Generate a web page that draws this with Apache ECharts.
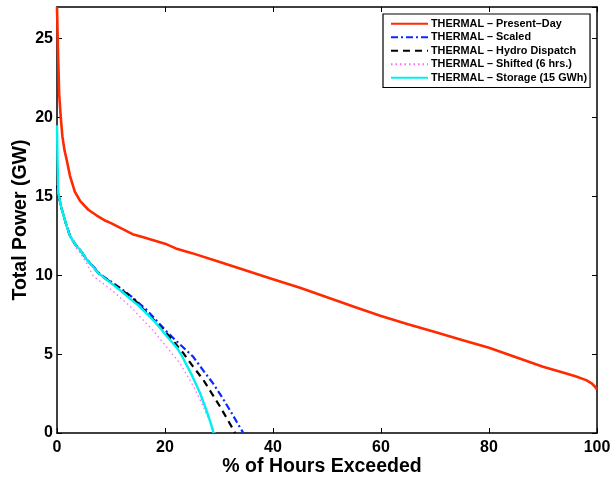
<!DOCTYPE html>
<html><head><meta charset="utf-8">
<script src="https://cdn.jsdelivr.net/npm/echarts@6/dist/echarts.min.js"></script>
<style>html,body{margin:0;padding:0;background:#fff}#c{width:610px;height:479px}</style>
</head><body><div id="c"></div>
<script>
var seriesNames = ['THERMAL \u2013 Present\u2013Day','THERMAL \u2013 Scaled','THERMAL \u2013 Hydro Dispatch','THERMAL \u2013 Shifted (6 hrs.)','THERMAL \u2013 Storage (15 GWh)'];
var xTicks = [0,20,40,60,80,100];
var yTicks = [0,5,10,15,20,25];
var presentDay = [[0,27],[0.2,24],[0.4,21.5],[0.7,20],[1,18.8],[1.4,17.9],[1.8,17.3],[2.4,16.3],[3.3,15.3],[4.3,14.7],[5.8,14.15],[7.3,13.8],[9,13.45],[10,13.3],[12,12.95],[14,12.6],[16,12.4],[18,12.2],[20,12.0],[22,11.7],[25,11.4],[30,10.85],[35,10.3],[40,9.75],[45,9.2],[50,8.6],[55,8.0],[60,7.42],[65,6.9],[70,6.4],[75,5.9],[80,5.4],[85,4.8],[90,4.2],[94,3.8],[96,3.6],[98,3.35],[99,3.15],[99.6,2.95],[100,2.75]];
var scaled = [[0,15.8],[0.25,15.2],[0.74,14.36],[1.8,13.1],[2.4,12.5],[3.5,11.9],[4.3,11.6],[5.5,11.0],[7,10.45],[8,10.05],[10,9.6],[11.7,9.2],[13.8,8.65],[16.6,7.8],[20.3,6.43],[22.2,5.8],[25.2,4.84],[27,4.0],[28.9,3.15],[30.5,2.3],[32,1.46],[33.3,0.7],[34.5,0]];
var hydro = [[0,15.8],[0.25,15.2],[0.74,14.36],[1.8,13.1],[2.4,12.5],[3.5,11.9],[4.3,11.6],[5.5,11.0],[7,10.4],[8,10.0],[10,9.55],[11.7,9.15],[13.8,8.6],[14.75,8.3],[17,7.5],[20.3,6.33],[23.4,5.06],[25,4.3],[27.1,3.36],[28.5,2.6],[30.2,1.67],[31.5,0.9],[33,0]];
var shifted = [[0,15.8],[0.25,15.2],[0.74,14.3],[1.8,13.0],[2.4,12.4],[3.5,11.75],[4.3,11.4],[5.5,10.75],[6.7,9.95],[10,9.1],[12.9,8.23],[14.1,7.85],[15,7.5],[17.8,6.5],[20.3,5.45],[22.8,4.4],[24,3.7],[25.2,3.0],[26.5,2.1],[27.7,1.2],[28.5,0.6],[29.3,0]];
var storage = [[0,19.5],[0.1,17.3],[0.25,15.2],[0.74,14.36],[1.8,13.1],[2.4,12.5],[3.5,11.9],[4.3,11.6],[5.5,11.0],[7,10.4],[7.65,10.13],[10,9.5],[11.7,9.05],[13.8,8.44],[15,8.1],[17.2,7.38],[19,6.7],[20.3,6.15],[22.2,5.4],[23.2,4.85],[24,4.3],[25,3.65],[26.5,2.52],[27.5,1.6],[28.3,0.8],[29,0]];

var F = 'Liberation Sans, Arial, Helvetica, sans-serif';
var chart = echarts.init(document.getElementById('c'), null, {renderer:'canvas'});
function mk(name, data, color, width, type){
  return {name:name, type:'line', data:data, symbol:'none', smooth:false, animation:false,
    lineStyle:{color:color, width:width, type:type}, itemStyle:{color:color}};
}
function axCommon(extra){
  return Object.assign({
    axisLine:{show:true, onZero:false, lineStyle:{color:'#000', width:1.5}},
    axisTick:{show:true, inside:true, length:5, lineStyle:{color:'#000', width:1}},
    splitLine:{show:false}
  }, extra);
}
var labelStyle = {fontFamily:F, fontWeight:'bold', fontSize:16, color:'#000'};
chart.setOption({
  animation:false,
  backgroundColor:'#fff',
  grid:{left:57, right:13, top:7, bottom:46, containLabel:false, outerBoundsMode:'none'},
  legend:{
    orient:'vertical', left:383, top:14, padding:[3,3,3,7], itemGap:0, itemWidth:37, itemHeight:13.5,
    backgroundColor:'#fff', borderColor:'#000', borderWidth:1.2,
    itemStyle:{opacity:0},
    textStyle:{fontFamily:F, fontWeight:'bold', fontSize:10.85, color:'#000', lineHeight:13.5, padding:[0,0,0,-2]},
    data:seriesNames
  },
  xAxis:[
    axCommon({type:'value', min:0, max:100, interval:20, position:'bottom',
      name:'% of Hours Exceeded', nameLocation:'middle', nameGap:24, nameMoveOverlap:false,
      nameTextStyle:{fontFamily:F, fontWeight:'bold', fontSize:19.5, color:'#000', padding:[0,10,0,0]},
      axisLabel:Object.assign({margin:7}, labelStyle)}),
    axCommon({type:'value', min:0, max:100, interval:20, position:'top', axisLabel:{show:false}})
  ],
  yAxis:[
    axCommon({type:'value', min:0, max:27, interval:5, position:'left',
      name:'Total Power (GW)', nameLocation:'middle', nameGap:26, nameMoveOverlap:false,
      nameTextStyle:{fontFamily:F, fontWeight:'bold', fontSize:19.5, color:'#000'},
      axisLabel:Object.assign({margin:4, showMaxLabel:false}, labelStyle)}),
    axCommon({type:'value', min:0, max:27, interval:5, position:'right', axisLabel:{show:false}})
  ],
  series:[
    mk(seriesNames[0], presentDay, '#ff2a00', 2.6, 'solid'),
    mk(seriesNames[1], scaled, '#0a28ff', 2.2, [7,3,2,3]),
    mk(seriesNames[2], hydro, '#000', 2.2, [7,5]),
    mk(seriesNames[3], shifted, '#ff66ff', 1.3, [1.5,3]),
    mk(seriesNames[4], storage, '#00f0f0', 2.4, 'solid')
  ]
});
</script></body></html>
